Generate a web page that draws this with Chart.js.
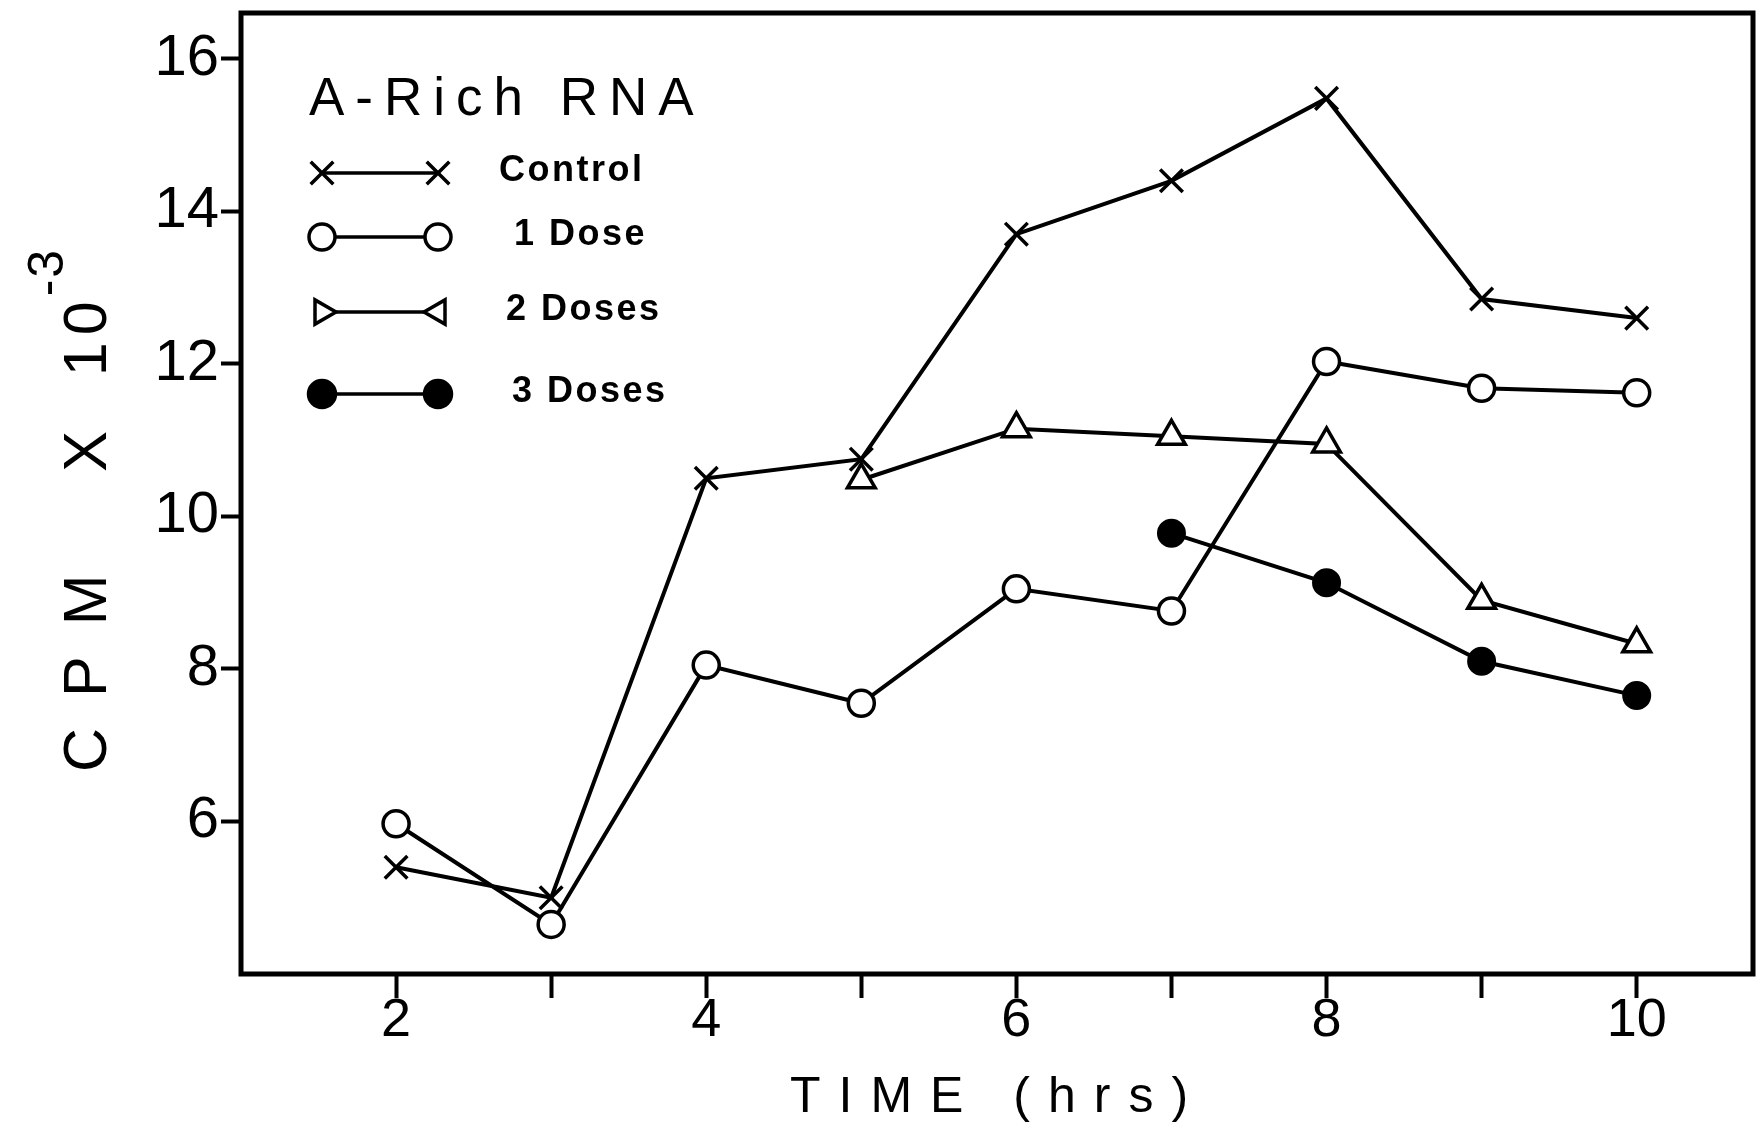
<!doctype html>
<html>

<head>
  <script src="https://cdn.jsdelivr.net/npm/chart.js@4/dist/chart.umd.min.js"></script>
  <style>
    body { margin: 0; background: #fff; }
  </style>
</head>

<body>
  <canvas id="canvas" width="1760" height="1128"></canvas>
  <script>
    // values (CPM x 10^-3 against time in hours)
    const hours = [2, 3, 4, 5, 6, 7, 8, 9, 10];
    const control = [5.4, 5.0, 10.5, 10.75, 13.7, 14.4, 15.48, 12.85, 12.6];
    const oneDose = [5.97, 4.65, 8.05, 7.55, 9.05, 8.76, 12.03, 11.68, 11.62];
    const twoDoseHours = [5, 6, 7, 8, 9, 10];
    const twoDoses = [10.48, 11.15, 11.05, 10.95, 8.9, 8.33];
    const threeDoseHours = [7, 8, 9, 10];
    const threeDoses = [9.78, 9.13, 8.1, 7.65];

    const xTickValues = [2, 3, 4, 5, 6, 7, 8, 9, 10];
    const yTickValues = [6, 8, 10, 12, 14, 16];

    const FONT = "'Liberation Sans', 'DejaVu Sans', sans-serif";
    const pts = (xs, ys) => xs.map((x, i) => ({x: x, y: ys[i]}));

    const legendRows = [
      {label: 'Control', style: 'crossRot', r: 16, fill: '#fff', rotL: 0, rotR: 0, y: 173, tx: 499},
      {label: '1 Dose', style: 'circle', r: 13, fill: '#fff', rotL: 0, rotR: 0, y: 237, tx: 514},
      {label: '2 Doses', style: 'triangle', r: 14, fill: '#fff', rotL: 90, rotR: 270, y: 312, tx: 506},
      {label: '3 Doses', style: 'circle', r: 13.5, fill: '#000', rotL: 0, rotR: 0, y: 394, tx: 512}
    ];

    const noEdgePadding = (s) => {
      s.paddingTop = 0;
      s.paddingBottom = 0;
      s.paddingLeft = 0;
      s.paddingRight = 0;
    };

    const figurePlugin = {
      id: 'figure',
      beforeDatasetsDraw(chart) {
        const a = chart.chartArea;
        const ctx = chart.ctx;
        ctx.save();
        ctx.strokeStyle = '#000';
        ctx.lineWidth = 5;
        ctx.strokeRect(a.left, a.top, a.right - a.left, a.bottom - a.top);
        ctx.restore();
      },
      afterDraw(chart) {
        const ctx = chart.ctx;
        ctx.save();
        ctx.fillStyle = '#000';
        ctx.strokeStyle = '#000';

        // legend title
        ctx.font = '53px ' + FONT;
        ctx.letterSpacing = '11px';
        ctx.textBaseline = 'alphabetic';
        ctx.textAlign = 'left';
        ctx.fillText('A-Rich RNA', 309, 115);

        // legend rows
        legendRows.forEach((r) => {
          ctx.lineWidth = 3.5;
          ctx.beginPath();
          ctx.moveTo(322, r.y);
          ctx.lineTo(438, r.y);
          ctx.stroke();
          ctx.fillStyle = r.fill;
          ctx.lineWidth = 3.5;
          Chart.helpers.drawPoint(ctx, {pointStyle: r.style, radius: r.r, rotation: r.rotL, borderWidth: 3.5}, 322, r.y);
          Chart.helpers.drawPoint(ctx, {pointStyle: r.style, radius: r.r, rotation: r.rotR, borderWidth: 3.5}, 438, r.y);
          ctx.fillStyle = '#000';
          ctx.font = "bold 36px 'Liberation Sans Narrow', 'Liberation Sans', sans-serif";
          ctx.letterSpacing = '2.5px';
          ctx.textBaseline = 'middle';
          ctx.fillText(r.label, r.tx, r.y - 2);
        });

        // x axis title
        ctx.font = '50px ' + FONT;
        ctx.letterSpacing = '18px';
        ctx.textBaseline = 'alphabetic';
        ctx.textAlign = 'center';
        ctx.fillText('TIME (hrs)', 998, 1112);

        // y axis title, rotated, with superscript
        ctx.translate(106, 0);
        ctx.rotate(-Math.PI / 2);
        ctx.textAlign = 'left';
        ctx.font = '61px ' + FONT;
        ctx.letterSpacing = '7px';
        const main = 'C P M    X  10';
        ctx.fillText(main, -772, 0);
        const w = ctx.measureText(main).width;
        ctx.font = '50px ' + FONT;
        ctx.letterSpacing = '2px';
        ctx.fillText('-3', -772 + w - 2, -43);
        ctx.restore();
      }
    };

    new Chart(document.getElementById('canvas').getContext('2d'), {
      type: 'line',
      data: {
        datasets: [
          {
            label: 'Control',
            data: pts(hours, control),
            pointStyle: 'crossRot',
            pointRadius: 16,
            pointBorderWidth: 3.5
          },
          {
            label: '1 Dose',
            data: pts(hours, oneDose),
            pointStyle: 'circle',
            pointRadius: 13,
            pointBorderWidth: 3.5,
            pointBackgroundColor: '#fff'
          },
          {
            label: '2 Doses',
            data: pts(twoDoseHours, twoDoses),
            pointStyle: 'triangle',
            pointRadius: 16,
            pointBorderWidth: 3.5,
            pointBackgroundColor: '#fff'
          },
          {
            label: '3 Doses',
            data: pts(threeDoseHours, threeDoses),
            pointStyle: 'circle',
            pointRadius: 13.5,
            pointBorderWidth: 2,
            pointBackgroundColor: '#000'
          }
        ]
      },
      options: {
        responsive: false,
        animation: false,
        layout: {autoPadding: false, padding: {top: 13, right: 7, left: 0, bottom: 0}},
        elements: {
          line: {borderColor: '#000', borderWidth: 4, tension: 0, fill: false},
          point: {borderColor: '#000'}
        },
        plugins: {
          legend: {display: false},
          tooltip: {enabled: false}
        },
        scales: {
          x: {
            type: 'linear',
            min: 1,
            max: 10.75,
            afterBuildTicks: (s) => { s.ticks = xTickValues.map((v) => ({value: v})); },
            afterFit: (s) => { s.height = 154; noEdgePadding(s); },
            border: {display: false},
            grid: {drawOnChartArea: false, drawTicks: true, tickLength: 24, tickWidth: 4, tickColor: '#000'},
            ticks: {
              color: '#000',
              font: {family: FONT, size: 54},
              padding: -9,
              maxRotation: 0,
              autoSkip: false,
              callback: (v) => (v % 2 === 0 ? String(v) : '')
            }
          },
          y: {
            type: 'linear',
            min: 4,
            max: 16.6,
            afterBuildTicks: (s) => { s.ticks = yTickValues.map((v) => ({value: v})); },
            afterFit: (s) => { s.width = 241; noEdgePadding(s); },
            border: {display: false},
            grid: {drawOnChartArea: false, drawTicks: true, tickLength: 20, tickWidth: 4, tickColor: '#000'},
            ticks: {
              color: '#000',
              font: {family: FONT, size: 58},
              padding: 2,
              autoSkip: false
            }
          }
        }
      },
      plugins: [figurePlugin]
    });
  </script>
</body>

</html>
